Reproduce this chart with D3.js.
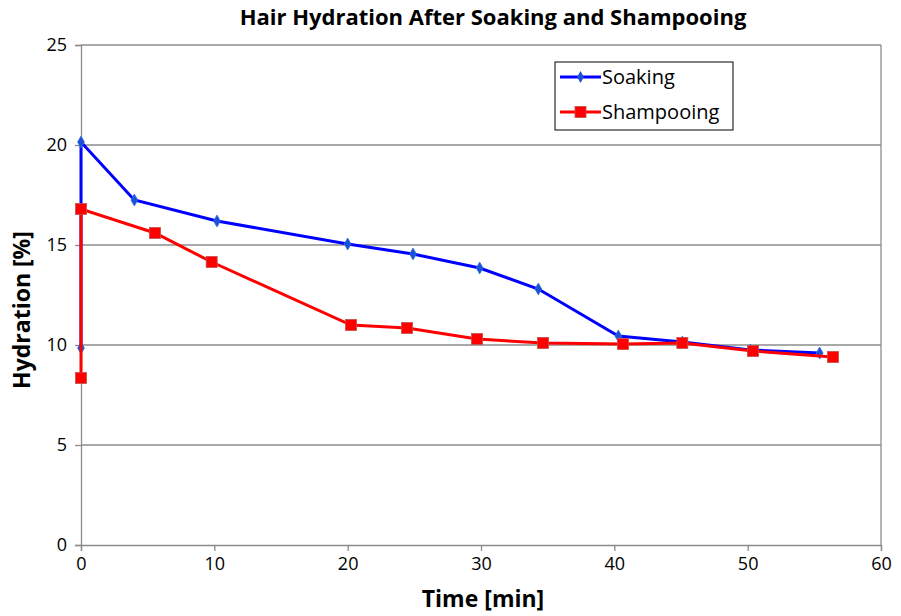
<!DOCTYPE html>
<html>
<head>
<meta charset="utf-8">
<script src="https://cdn.jsdelivr.net/npm/d3@7"></script>
<style>
  body { margin: 0; background: #fff; }
  svg { display: block; font-family: "Liberation Sans Narrow", "Open Sans", sans-serif; }
</style>
</head>
<body>
<div id="chart"></div>
<script>
// values
var soakingTime = [0, 0, 4, 10.2, 20, 24.9, 29.9, 34.3, 40.3, 45.1, 50.2, 55.4];
var soakingHydration = [9.85, 20.15, 17.25, 16.2, 15.05, 14.55, 13.85, 12.8, 10.45, 10.15, 9.75, 9.6];
var shampooTime = [0, 0, 5.55, 9.8, 20.25, 24.45, 29.7, 34.65, 40.65, 45.1, 50.4, 56.4];
var shampooHydration = [8.35, 16.8, 15.6, 14.15, 11.0, 10.85, 10.3, 10.1, 10.05, 10.1, 9.7, 9.4];
var xTicks = [0, 10, 20, 30, 40, 50, 60];
var yTicks = [0, 5, 10, 15, 20, 25];

const width = 901,
  height = 616,
  margin = { top: 45, right: 20, bottom: 71, left: 81 };

const svg = d3
  .select("#chart")
  .append("svg")
  .attr("width", width)
  .attr("height", height);

const x = d3.scaleLinear().domain([0, 60]).range([margin.left, width - margin.right]);
const y = d3.scaleLinear().domain([0, 25]).range([height - margin.bottom, margin.top]);

// gridlines
svg
  .append("g")
  .selectAll("line")
  .data(yTicks.filter((d) => d > 0))
  .join("line")
  .attr("x1", x(0))
  .attr("x2", x(60))
  .attr("y1", (d) => y(d))
  .attr("y2", (d) => y(d))
  .style("stroke", "#8c8c8c")
  .style("stroke-width", 1.3);

// right border
svg
  .append("line")
  .attr("x1", x(60))
  .attr("x2", x(60))
  .attr("y1", y(0))
  .attr("y2", y(25))
  .style("stroke", "#8c8c8c")
  .style("stroke-width", 1.3);

// axes
const xAxis = svg
  .append("g")
  .attr("transform", `translate(0,${y(0)})`)
  .call(d3.axisBottom(x).tickValues(xTicks).tickSize(6).tickPadding(6));
const yAxis = svg
  .append("g")
  .attr("transform", `translate(${x(0)},0)`)
  .call(d3.axisLeft(y).tickValues(yTicks).tickSize(6).tickPadding(8));

[xAxis, yAxis].forEach((g) => {
  g.select(".domain").style("stroke", "#8c8c8c").style("stroke-width", 1.3);
  g.selectAll(".tick line").style("stroke", "#8c8c8c").style("stroke-width", 1.3);
  g.selectAll(".tick text")
    .style("font-family", "Liberation Sans Narrow, Open Sans, sans-serif")
    .style("font-size", "18px")
    .style("fill", "#000");
});

const soaking = soakingTime.map((t, i) => ({ t: t, h: soakingHydration[i] }));
const shampoo = shampooTime.map((t, i) => ({ t: t, h: shampooHydration[i] }));

const line = d3
  .line()
  .x((d) => x(d.t))
  .y((d) => y(d.h));

// soaking series
svg
  .append("path")
  .datum(soaking)
  .attr("d", line)
  .style("fill", "none")
  .style("stroke", "#0000ff")
  .style("stroke-width", 3);

const diamond = d3.symbol().type(d3.symbolDiamond).size(40);

svg
  .append("g")
  .selectAll("path")
  .data(soaking)
  .join("path")
  .attr("d", diamond)
  .attr("transform", (d) => `translate(${x(d.t)},${y(d.h)})`)
  .style("fill", "#1d4fd8")
  .style("stroke", "#2a6fe0")
  .style("stroke-width", 0.8);

// shampooing series
svg
  .append("path")
  .datum(shampoo)
  .attr("d", line)
  .style("fill", "none")
  .style("stroke", "#ff0000")
  .style("stroke-width", 3);

svg
  .append("g")
  .selectAll("rect")
  .data(shampoo)
  .join("rect")
  .attr("x", (d) => x(d.t) - 5.5)
  .attr("y", (d) => y(d.h) - 5.5)
  .attr("width", 11)
  .attr("height", 11)
  .style("fill", "#ff0000")
  .style("stroke", "#c0504d")
  .style("stroke-width", 0.8);

// title
svg
  .append("text")
  .attr("x", 493)
  .attr("y", 25)
  .attr("text-anchor", "middle")
  .style("font-size", "22px")
  .style("font-weight", "bold")
  .text("Hair Hydration After Soaking and Shampooing");

// axis titles
svg
  .append("text")
  .attr("x", 483)
  .attr("y", 607)
  .attr("text-anchor", "middle")
  .style("font-size", "23px")
  .style("font-weight", "bold")
  .text("Time [min]");

svg
  .append("text")
  .attr("transform", "translate(30,310) rotate(-90)")
  .attr("text-anchor", "middle")
  .style("font-size", "23px")
  .style("font-weight", "bold")
  .text("Hydration [%]");

// legend
const legend = svg.append("g").attr("transform", "translate(555,62)");
legend
  .append("rect")
  .attr("width", 178)
  .attr("height", 68)
  .style("fill", "#fff")
  .style("stroke", "#000")
  .style("stroke-width", 1);

const legendItems = [
  { name: "Soaking", color: "#0000ff", shape: "diamond", yy: 15 },
  { name: "Shampooing", color: "#ff0000", shape: "square", yy: 50 },
];

legendItems.forEach((d) => {
  legend
    .append("line")
    .attr("x1", 5)
    .attr("x2", 46)
    .attr("y1", d.yy)
    .attr("y2", d.yy)
    .style("stroke", d.color)
    .style("stroke-width", 3);
  if (d.shape == "diamond") {
    legend
      .append("path")
      .attr("d", diamond)
      .attr("transform", `translate(25.5,${d.yy})`)
      .style("fill", "#1d4fd8");
  } else {
    legend
      .append("rect")
      .attr("x", 20)
      .attr("y", d.yy - 5.5)
      .attr("width", 11)
      .attr("height", 11)
      .style("fill", "#ff0000")
      .style("stroke", "#c0504d")
      .style("stroke-width", 0.8);
  }
  legend
    .append("text")
    .attr("x", 47)
    .attr("y", d.yy)
    .attr("dy", "0.35em")
    .style("font-size", "20px")
    .text(d.name);
});
</script>
</body>
</html>
